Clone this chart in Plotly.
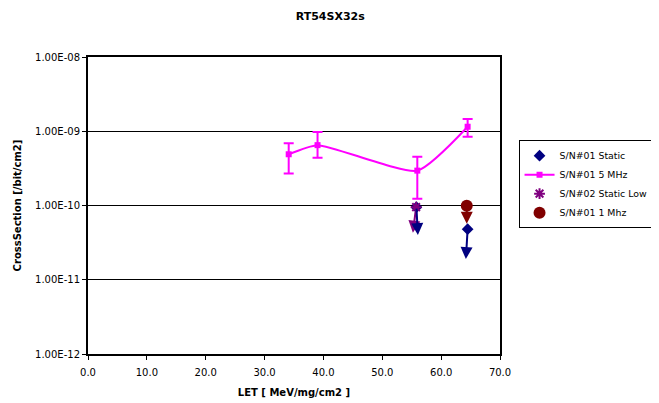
import numpy as np
import plotly.graph_objects as go

# ---- data ----
let_static = [55.8, 64.5]
cs_static = [9.5e-11, 4.8e-11]
let_static_arrow = [56.05, 64.2]
cs_static_limit = [4.0e-11, 1.9e-11]

let_5mhz = [34.1, 39.0, 55.95, 64.5]
cs_5mhz = [4.9e-10, 6.5e-10, 2.95e-10, 1.15e-9]
cs_5mhz_hi = [6.9e-10, 9.8e-10, 4.55e-10, 1.46e-9]
cs_5mhz_lo = [2.7e-10, 4.4e-10, 1.23e-10, 8.4e-10]

let_low = [55.75]
cs_low = [9.5e-11]
let_low_arrow = [55.2]
cs_low_limit = [4.3e-11]

let_1mhz = [64.35]
cs_1mhz = [9.9e-11]
let_1mhz_arrow = [64.35]
cs_1mhz_limit = [5.7e-11]

x_ticks = [0, 10, 20, 30, 40, 50, 60, 70]
y_ticks = [1e-12, 1e-11, 1e-10, 1e-9, 1e-8]
y_ticktext = ["1.00E-12", "1.00E-11", "1.00E-10", "1.00E-09", "1.00E-08"]

NAVY = "#000080"
MAGENTA = "#FF00FF"
PURPLE = "#800080"
DARKRED = "#800000"
FONT = "DejaVu Sans, Verdana, sans-serif"

fig = go.Figure()

fig.add_trace(go.Scatter(
    x=let_static, y=cs_static, mode="markers", name="S/N#01 Static",
    marker=dict(symbol="diamond", size=9, color=NAVY)))

err_plus = [h - v for h, v in zip(cs_5mhz_hi, cs_5mhz)]
err_minus = [v - l for v, l in zip(cs_5mhz, cs_5mhz_lo)]
fig.add_trace(go.Scatter(
    x=let_5mhz, y=cs_5mhz, mode="lines+markers", name="S/N#01 5 MHz",
    line=dict(color=MAGENTA, width=2, shape="spline", smoothing=0.55),
    marker=dict(symbol="square", size=6, color=MAGENTA),
    error_y=dict(type="data", symmetric=False, array=err_plus, arrayminus=err_minus,
                 color=MAGENTA, thickness=2, width=5)))

fig.add_trace(go.Scatter(
    x=let_low, y=cs_low, mode="markers", name="S/N#02 Static Low",
    marker=dict(symbol="asterisk-open", size=9, color=PURPLE,
                line=dict(color=PURPLE, width=2))))

fig.add_trace(go.Scatter(
    x=let_1mhz, y=cs_1mhz, mode="markers", name="S/N#01 1 Mhz",
    marker=dict(symbol="circle", size=12, color=DARKRED)))

annotations = []
def add_arrows(xs, ys, xe, ye, color):
    for x0, y0, x1, y1 in zip(xs, ys, xe, ye):
        annotations.append(dict(
            x=x1, y=np.log10(y1), ax=x0, ay=np.log10(y0),
            xref="x", yref="y", axref="x", ayref="y",
            showarrow=True, arrowhead=2, arrowsize=1.2, arrowwidth=2,
            arrowcolor=color, standoff=0, startstandoff=0, text=""))

add_arrows(let_low, cs_low, let_low_arrow, cs_low_limit, PURPLE)
add_arrows(let_static, cs_static, let_static_arrow, cs_static_limit, NAVY)
add_arrows(let_1mhz, cs_1mhz, let_1mhz_arrow, cs_1mhz_limit, DARKRED)

fig.update_layout(
    width=659, height=403,
    margin=dict(l=80, r=167, t=49, b=57, autoexpand=False),
    paper_bgcolor="white", plot_bgcolor="white",
    font=dict(family=FONT, size=10, color="black"),
    title=dict(text="<b>RT54SX32s</b>", x=0.489, xanchor="center", y=0.98, yanchor="middle",
               font=dict(size=11, family=FONT)),
    showlegend=True,
    legend=dict(x=1.045, y=0.72, xanchor="left", yanchor="top",
                bordercolor="black", borderwidth=1, bgcolor="white",
                font=dict(size=9.4, family=FONT), tracegroupgap=4, itemwidth=30),
    annotations=annotations,
)

fig.update_xaxes(
    range=[0, 70], tickvals=x_ticks, tickformat=".1f",
    showgrid=False, zeroline=False, automargin=False,
    showline=True, linecolor="black", linewidth=2, mirror=True,
    ticks="outside", ticklen=4, tickcolor="black", ticklabelstandoff=4,
    tickfont=dict(size=10, family=FONT),
    title=dict(text="<b>LET [ MeV/mg/cm2 ]</b>", font=dict(size=10, family=FONT), standoff=12))

fig.update_yaxes(
    type="log", range=[-12, -8], tickvals=y_ticks, ticktext=y_ticktext,
    showgrid=True, gridcolor="black", gridwidth=1, zeroline=False, automargin=False,
    showline=True, linecolor="black", linewidth=2, mirror=True,
    ticks="outside", ticklen=4, tickcolor="black",
    tickfont=dict(size=10, family=FONT),
    title=dict(text="<b>CrossSection [/bit/cm2]</b>", font=dict(size=10, family=FONT), standoff=12))

fig.write_html("out.html")
